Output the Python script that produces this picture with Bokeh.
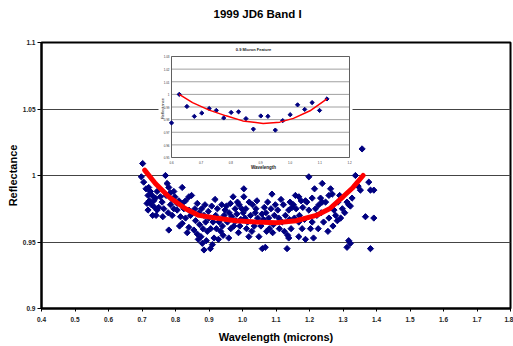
from bokeh.plotting import figure
from bokeh.models import Range1d, FixedTicker, NumeralTickFormatter, Title
from bokeh.embed import file_html
from bokeh.resources import INLINE
from bokeh.core.properties import value
import math

# ---------------- data ----------------
title_text = "1999 JD6 Band I"
x_label = "Wavelength (microns)"
y_label = "Reflectance"
x_ticks = [0.4, 0.5, 0.6, 0.7, 0.8, 0.9, 1.0, 1.1, 1.2, 1.3, 1.4, 1.5, 1.6, 1.7, 1.8]
y_ticks = [0.9, 0.95, 1.0, 1.05, 1.1]

wav = [
    0.702, 0.698, 0.705, 0.712, 0.720, 0.725, 0.718, 0.730, 0.735, 0.740, 0.745, 0.715, 0.718, 0.728, 0.738, 0.745, 0.750, 0.742, 0.732, 0.722,
    0.770, 0.775, 0.780, 0.772, 0.785, 0.790, 0.760, 0.765, 0.778, 0.785, 0.795, 0.780, 0.790, 0.798, 0.755, 0.762, 0.795,
    0.820, 0.810, 0.805, 0.820, 0.830, 0.840, 0.805, 0.825, 0.840, 0.815, 0.830, 0.820, 0.840, 0.835, 0.848, 0.845, 0.812,
    0.855, 0.865, 0.865, 0.858, 0.870, 0.878, 0.885, 0.860, 0.872, 0.882, 0.890, 0.868, 0.876, 0.880, 0.885, 0.892, 0.895, 0.888, 0.898,
    0.904, 0.910, 0.915, 0.905, 0.912, 0.920, 0.925, 0.908, 0.918, 0.930, 0.935, 0.940, 0.928, 0.945, 0.938, 0.948, 0.922, 0.900, 0.942,
    0.959, 0.964, 0.960, 0.968, 0.974, 0.978, 0.983, 0.988, 0.990, 0.995, 0.972, 0.980, 0.955, 0.985, 0.998, 0.965, 0.952, 0.992,
    1.004, 1.004, 1.010, 1.019, 1.015, 1.024, 1.030, 1.008, 1.035, 1.040, 1.045, 1.049, 1.020, 1.028, 1.038, 1.012, 1.043, 1.002,
    1.059, 1.068, 1.055, 1.062, 1.070, 1.078, 1.088, 1.085, 1.080, 1.092, 1.095, 1.065, 1.075, 1.098, 1.058, 1.090, 1.072,
    1.133, 1.138, 1.105, 1.110, 1.118, 1.122, 1.128, 1.140, 1.145, 1.115, 1.135, 1.148, 1.108, 1.125, 1.142, 1.138,
    1.158, 1.168, 1.175, 1.160, 1.170, 1.180, 1.188, 1.198, 1.185, 1.198, 1.155, 1.168, 1.168, 1.188, 1.192, 1.152, 1.178,
    1.208, 1.218, 1.203, 1.208, 1.226, 1.238, 1.233, 1.238, 1.248, 1.228, 1.235, 1.222, 1.215, 1.242, 1.212,
    1.263, 1.268, 1.258, 1.273, 1.278, 1.293, 1.283, 1.258, 1.298, 1.255, 1.285, 1.270, 1.290,
    1.312, 1.317, 1.322, 1.327, 1.337, 1.357, 1.352, 1.377, 1.382, 1.392, 1.367, 1.392, 1.317, 1.312, 1.322, 1.382, 1.345, 1.305,
]
refl = [
    1.009, 0.999, 0.995, 0.990, 0.991, 0.988, 0.985, 0.985, 0.981, 0.983, 0.988, 0.979, 0.974, 0.978, 0.976, 0.974, 0.976, 0.970, 0.970, 0.981,
    1.000, 0.994, 0.991, 0.985, 0.987, 0.982, 0.980, 0.975, 0.972, 0.978, 0.975, 0.959, 0.970, 0.984, 0.984, 0.969, 0.988,
    0.991, 0.981, 0.979, 0.979, 0.981, 0.984, 0.974, 0.975, 0.974, 0.969, 0.968, 0.964, 0.961, 0.957, 0.985, 0.970, 0.962,
    0.959, 0.956, 0.979, 0.975, 0.972, 0.975, 0.970, 0.966, 0.963, 0.960, 0.965, 0.952, 0.954, 0.949, 0.944, 0.951, 0.958, 0.978, 0.973,
    0.945, 0.948, 0.953, 0.960, 0.965, 0.970, 0.975, 0.977, 0.982, 0.965, 0.958, 0.962, 0.952, 0.970, 0.978, 0.974, 0.960, 0.968, 0.955,
    0.953, 0.979, 0.972, 0.969, 0.962, 0.975, 0.971, 0.957, 0.978, 0.967, 0.984, 0.966, 0.965, 0.980, 0.975, 0.960, 0.977, 0.962,
    0.990, 0.984, 0.975, 0.954, 0.965, 0.970, 0.978, 0.968, 0.962, 0.975, 0.968, 0.954, 0.980, 0.958, 0.972, 0.960, 0.981, 0.972,
    0.945, 0.946, 0.962, 0.967, 0.972, 0.968, 0.986, 0.975, 0.960, 0.963, 0.970, 0.976, 0.980, 0.978, 0.971, 0.957, 0.958,
    0.945, 0.974, 0.974, 0.960, 0.965, 0.978, 0.970, 0.967, 0.960, 0.982, 0.955, 0.976, 0.968, 0.958, 0.980, 0.953,
    0.985, 0.984, 0.981, 0.975, 0.970, 0.976, 0.981, 0.999, 0.967, 0.974, 0.968, 0.965, 0.954, 0.952, 0.980, 0.978, 0.960,
    0.983, 0.975, 0.960, 0.965, 0.960, 0.994, 0.983, 0.980, 0.980, 0.978, 0.972, 0.970, 0.990, 0.965, 0.953,
    0.990, 0.986, 0.985, 0.974, 0.970, 0.968, 0.966, 0.968, 0.975, 0.958, 0.980, 0.962, 0.985,
    0.980, 0.978, 0.977, 0.983, 1.000, 1.020, 0.989, 0.995, 0.989, 0.989, 0.969, 0.968, 0.951, 0.946, 0.949, 0.945, 0.992, 0.972,
]

fit_wav = [0.708, 0.74, 0.78, 0.83, 0.87, 0.92, 0.98, 1.04, 1.10, 1.16, 1.22, 1.26, 1.30, 1.33, 1.36]
fit_refl = [1.004, 0.994, 0.984, 0.975, 0.970, 0.968, 0.966, 0.965, 0.9645, 0.966, 0.970, 0.975, 0.984, 0.991, 1.000]

inset_title = "0.9 Micron Feature"
inset_x_label = "Wavelength"
inset_y_label = "Reflectance"
inset_wav = [0.600, 0.626, 0.652, 0.677, 0.702, 0.727, 0.751, 0.776, 0.801, 0.826, 0.851,
             0.876, 0.901, 0.925, 0.950, 0.975, 1.000, 1.025, 1.049, 1.074, 1.099, 1.124]
inset_refl = [0.9774, 1.0000, 0.9904, 0.9826, 0.9852, 0.9888, 0.9873, 0.9813, 0.9857, 0.9862, 0.9808,
              0.9725, 0.9829, 0.9826, 0.9717, 0.9792, 0.9839, 0.9917, 0.9881, 0.9935, 0.9873, 0.9964]
inset_fit_wav = [0.626, 0.671, 0.727, 0.784, 0.840, 0.909, 0.965, 1.011, 1.067, 1.124]
inset_fit_refl = [1.000, 0.9935, 0.9875, 0.983, 0.979, 0.977, 0.978, 0.981, 0.987, 0.9964]
inset_x_ticks = [0.6, 0.7, 0.8, 0.9, 1.0, 1.1, 1.2]
inset_x_tick_labels = ["0.6", "0.7", "0.8", "0.9", "1.0", "1.1", "1.2"]
inset_y_ticks = [0.95, 0.96, 0.97, 0.98, 0.99, 1.00, 1.01, 1.02, 1.03]
inset_y_tick_labels = ["0.95", "0.96", "0.97", "0.98", "0.99", "1", "1.01", "1.02", "1.03"]

# ---------------- layout (pixels) ----------------
W, H = 513, 346
FL, FR, FT, FB = 41, 510, 42, 308      # main frame edges
IL, IR, IT, IB = 171, 349, 56, 157     # inset plot-area edges
IX0, IX1 = inset_x_ticks[0], inset_x_ticks[-1]
IY0, IY1 = inset_y_ticks[0], inset_y_ticks[-1]
sx = (IR - IL) / (IX1 - IX0)
sy = (IB - IT) / (IY1 - IY0)

def ixp(px):
    return IX0 + (px - IL) / sx

def iyp(py):
    return IY0 + (IB - py) / sy

FONT = "Liberation Sans"

p = figure(width=W, height=H, output_backend="svg", toolbar_location=None,
           x_range=Range1d(x_ticks[0], x_ticks[-1]), y_range=Range1d(y_ticks[0], y_ticks[-1]),
           min_border_left=FL, min_border_right=W - FR, min_border_top=FT, min_border_bottom=H - FB)
p.extra_x_ranges = {"ix": Range1d(ixp(FL), ixp(FR))}
p.extra_y_ranges = {"iy": Range1d(iyp(FB), iyp(FT))}

p.background_fill_color = "white"
p.border_fill_color = "white"
p.outline_line_color = "black"
p.outline_line_width = 2

p.title.text = title_text
p.title.align = "left"
p.title.offset = 172
p.title.vertical_align = "bottom"
p.title.standoff = 0
p.title.text_font = FONT
p.title.text_font_size = "11.5px"
p.title.text_font_style = "bold"
p.title.text_color = "black"
# blank spacer between the title and the plot frame
p.add_layout(Title(text=" ", text_font_size="19px", standoff=0), "above")

p.xaxis.ticker = FixedTicker(ticks=x_ticks)
p.yaxis.ticker = FixedTicker(ticks=y_ticks)
p.xaxis.formatter = NumeralTickFormatter(format="0.0")
p.yaxis.formatter = NumeralTickFormatter(format="0.[00]")
for ax in (p.xaxis, p.yaxis):
    ax.axis_line_color = "black"
    ax.axis_line_width = 2
    ax.major_tick_line_color = "black"
    ax.major_tick_in = 0
    ax.minor_tick_line_color = None
    ax.major_label_text_font = FONT
    ax.major_label_text_font_size = "6.5px"
    ax.major_label_text_font_style = "bold"
    ax.major_label_text_color = "#222222"
    ax.axis_label_text_font = FONT
    ax.axis_label_text_font_size = "11px"
    ax.axis_label_text_font_style = "bold"
    ax.axis_label_text_color = "black"
p.xaxis.axis_label = x_label
p.yaxis.axis_label = y_label
p.yaxis.major_tick_out = 4
p.yaxis.major_label_standoff = 2
p.yaxis.axis_label_standoff = 1
p.xaxis.major_tick_out = 3
p.xaxis.major_label_standoff = 5
p.xaxis.axis_label_standoff = 6

p.xgrid.visible = False
p.ygrid.ticker = FixedTicker(ticks=y_ticks)
p.ygrid.grid_line_color = "#444444"
p.ygrid.grid_line_width = 1

# main series
p.scatter(wav, refl, marker="square", angle=math.pi / 4, size=4.4,
          fill_color="#000080", line_color="#000080")
p.line(fit_wav, fit_refl, line_width=5, line_color="#ff0000", line_cap="round")

# ---------------- inset ----------------
rk = dict(x_range_name="ix", y_range_name="iy")
p.quad(left=ixp(158), right=ixp(352), bottom=iyp(171), top=iyp(44),
       fill_color="white", line_color=None, **rk)
p.segment(x0=[IX0] * len(inset_y_ticks), x1=[IX1] * len(inset_y_ticks),
          y0=inset_y_ticks, y1=inset_y_ticks, line_color="#a0a0a0", line_width=1, **rk)
p.quad(left=IX0, right=IX1, bottom=IY0, top=IY1, fill_color=None,
       line_color="#606060", line_width=1, **rk)
p.scatter(inset_wav, inset_refl, marker="square", angle=math.pi / 4, size=3,
          fill_color="#000080", line_color="#000080", **rk)
p.line(inset_fit_wav, inset_fit_refl, line_width=1.5, line_color="#ff0000", **rk)

p.text(x=[IX0] * len(inset_y_ticks), y=inset_y_ticks, text=inset_y_tick_labels,
       x_offset=-2, text_align="right", text_baseline="middle",
       text_font=value(FONT), text_font_size="3px", text_color="#333333", **rk)
p.text(x=inset_x_ticks, y=[IY0] * len(inset_x_ticks), text=inset_x_tick_labels,
       y_offset=3, text_align="center", text_baseline="top",
       text_font=value(FONT), text_font_size="3px", text_color="#333333", **rk)
p.text(x=[ixp(253)], y=[iyp(49)], text=[inset_title], text_align="center", text_baseline="middle",
       text_font=value(FONT), text_font_size="4px", text_font_style="bold", text_color="#222222", **rk)
p.text(x=[ixp(263)], y=[iyp(167)], text=[inset_x_label], text_align="center", text_baseline="middle",
       text_font=value(FONT), text_font_size="4.5px", text_font_style="bold", text_color="#222222", **rk)
p.text(x=[ixp(162)], y=[iyp(108)], text=[inset_y_label], angle=math.pi / 2,
       text_align="center", text_baseline="middle",
       text_font=value(FONT), text_font_size="4px", text_color="#222222", **rk)

open("out.html", "w").write(file_html(p, INLINE))
